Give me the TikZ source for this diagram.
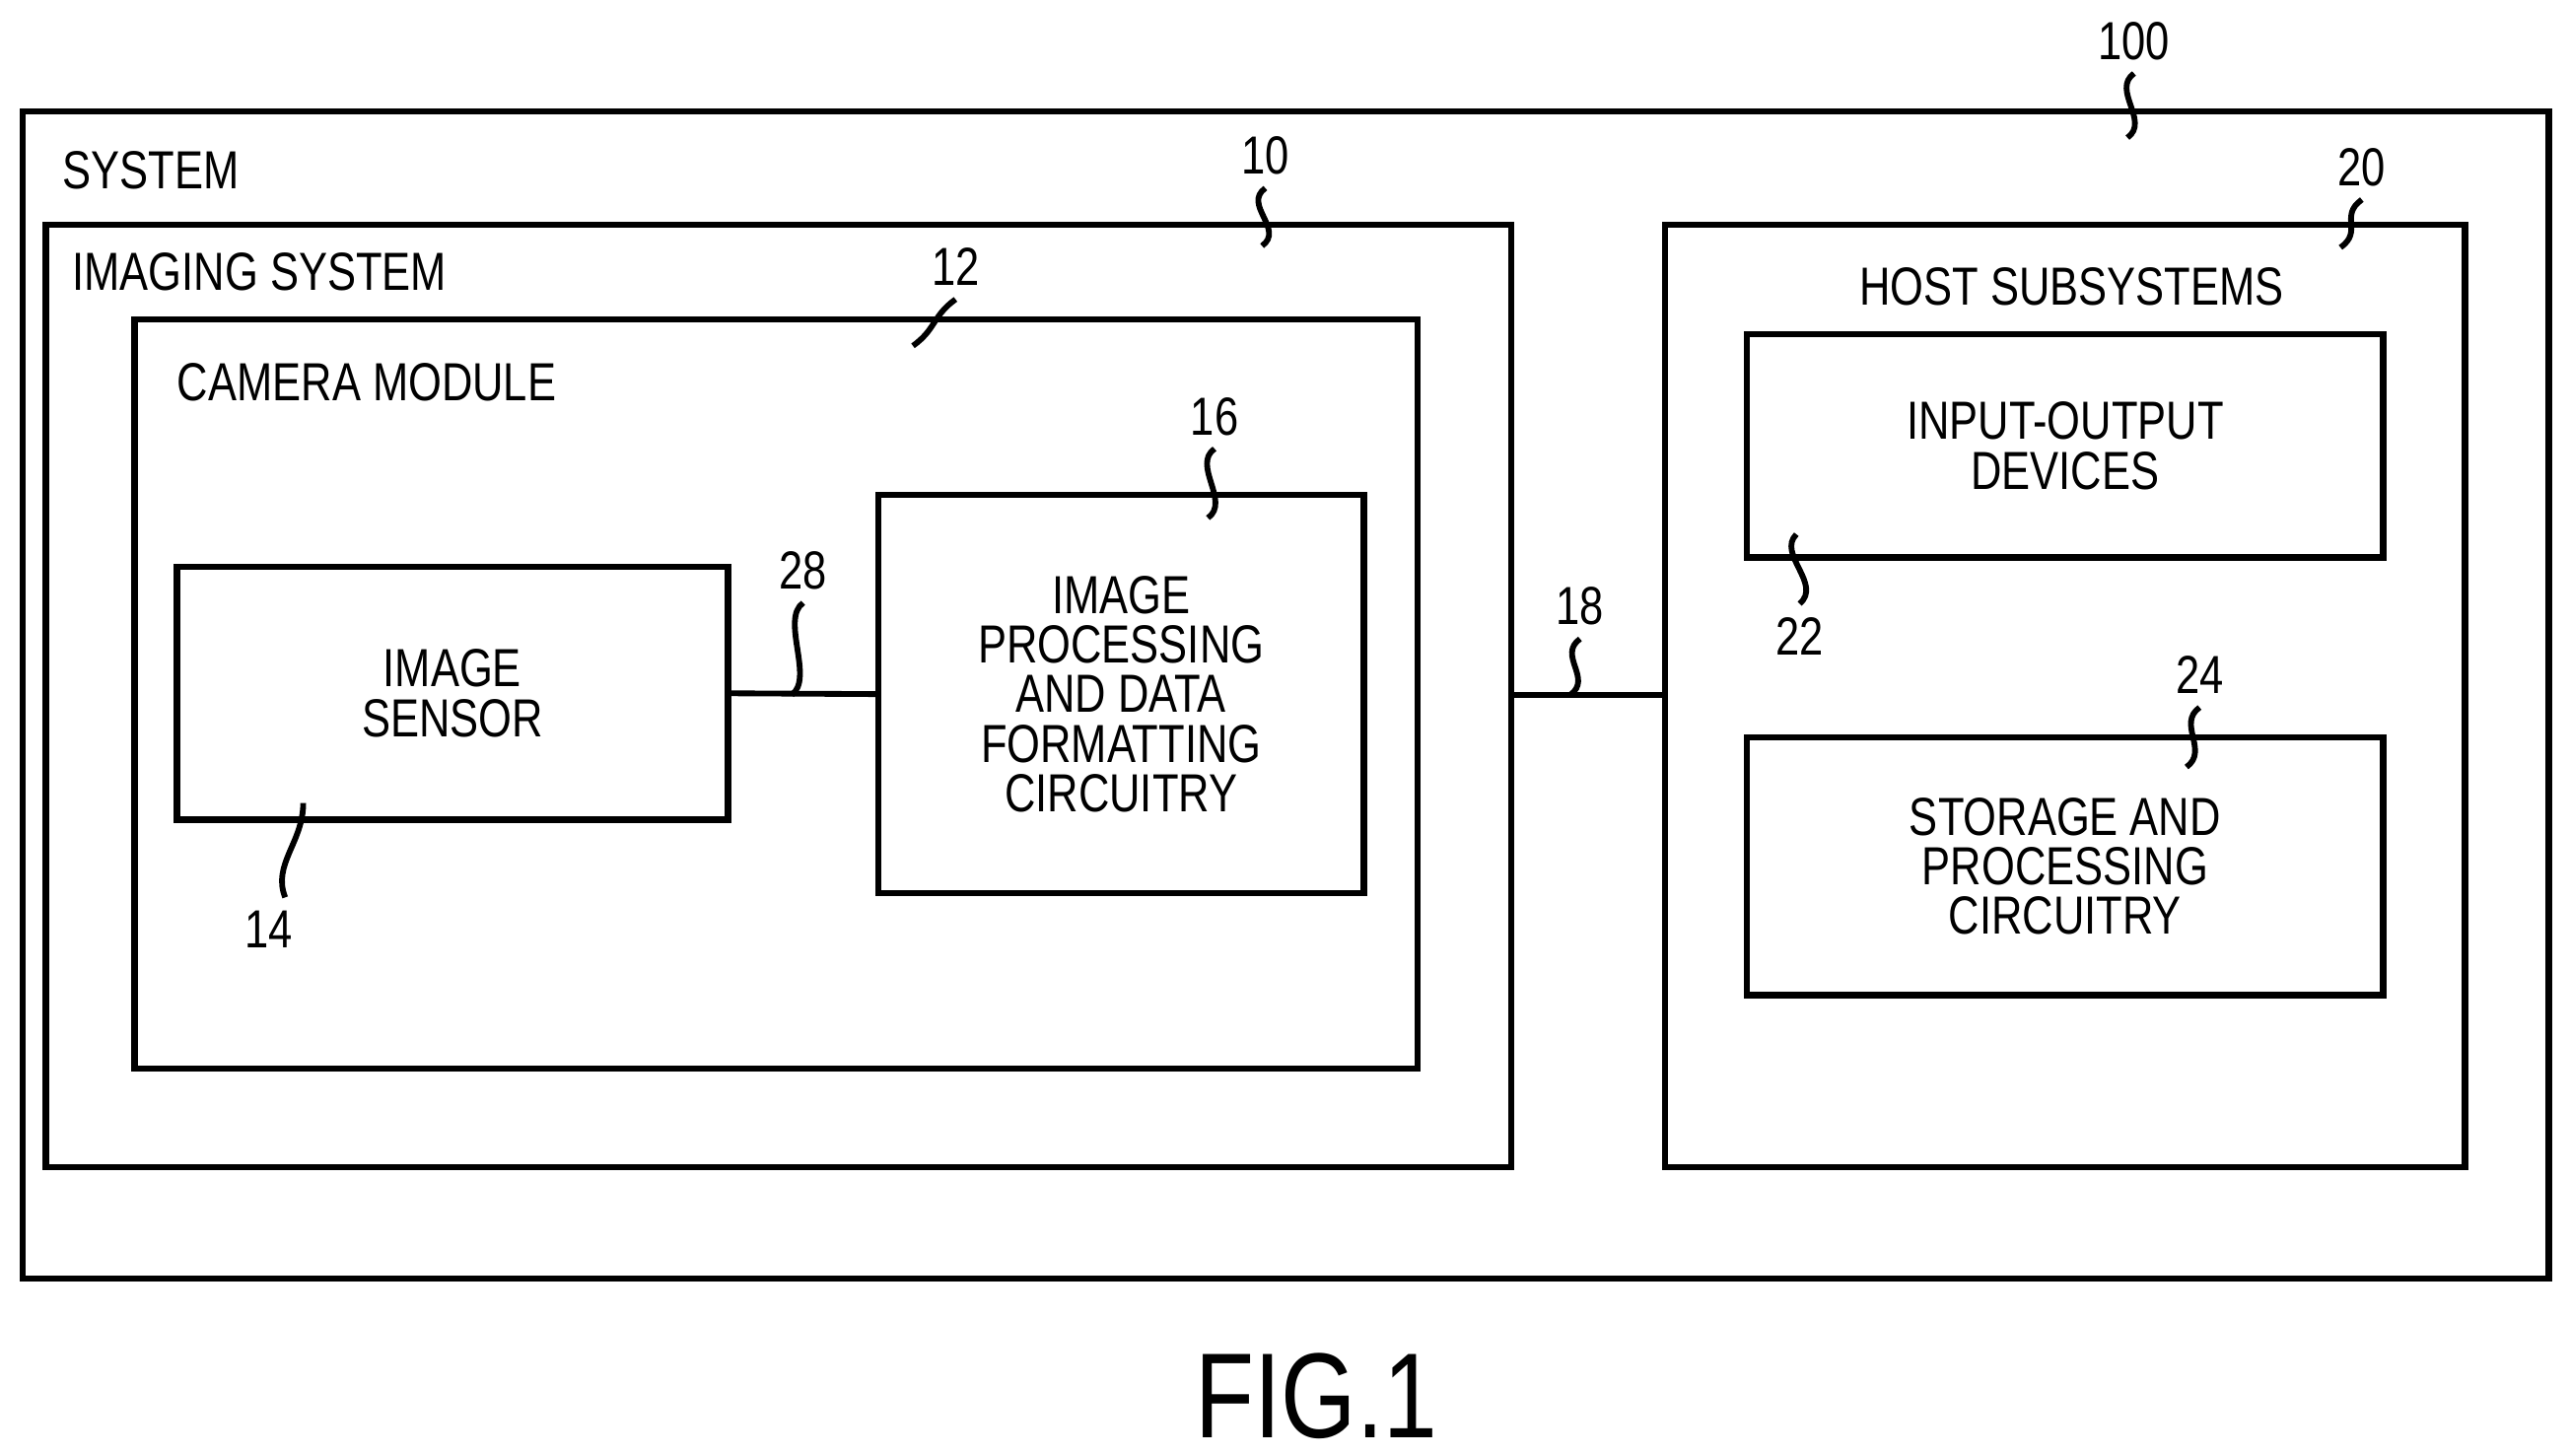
\documentclass[tikz,border=0pt]{standalone}
\usepackage{fontspec}
\setmainfont{Liberation Sans}[FakeStretch=0.8]
\usetikzlibrary{positioning}

\begin{document}
\begin{tikzpicture}[x=0.01cm,y=-0.01cm,
            every node/.append style = {font=\fontsize{9.3}{8.6}\selectfont, align=center, inner sep=1pt},
            blk/.style = {draw, line width=1.1pt},
            wire/.style = {line width=1pt},
            lead/.style = {line width=1pt}]
            \useasboundingbox (0,0) rectangle (1568,888);
            % outer frames
            \draw[blk] (14,68) rectangle (1555,780);
            \draw[blk] (28,137) rectangle (922,712);
            \draw[blk] (82,195) rectangle (865,652);
            \draw[blk] (1016,137) rectangle (1504,712);
            \node[anchor=west] (tsys) at (34,104) {SYSTEM};
            \node[anchor=west] (timg) at (40,166) {IMAGING SYSTEM};
            \node[anchor=west] (tcam) at (104,233) {CAMERA MODULE};
            \node (thost) at (1264,175) {HOST SUBSYSTEMS};
            % inner blocks
            \node[blk, minimum width=3.36cm, minimum height=1.54cm] (sensor) at (276,423) {IMAGE\\SENSOR};
            \node[blk, minimum width=2.96cm, minimum height=2.43cm] (proc) at (684,423.5) {IMAGE\\PROCESSING\\AND DATA\\FORMATTING\\CIRCUITRY};
            \node[blk, minimum width=3.88cm, minimum height=1.36cm] (io) at (1260,272) {INPUT-OUTPUT\\DEVICES};
            \node[blk, minimum width=3.88cm, minimum height=1.57cm] (store) at (1260,528.5) {STORAGE AND\\PROCESSING\\CIRCUITRY};
            \coordinate (imgR) at (922,424);
            \coordinate (hostL) at (1016,424);
            \draw[wire] (sensor.east) -- (proc.west);
            \draw[wire] (imgR) -- (hostL);
            % reference numerals
            \node (n100) at (1302,25) {100};
            \node (n10) at (772,95) {10};
            \node (n12) at (583,163) {12};
            \node (n16) at (741,254) {16};
            \node (n28) at (490,348) {28};
            \node (n18) at (964,370) {18};
            \node (n20) at (1441,102) {20};
            \node (n22) at (1098,388) {22};
            \node (n14) at (164,567) {14};
            \node (n24) at (1342,412) {24};
            \coordinate (p100) at (1298,84);
            \coordinate (p10) at (770,150);
            \coordinate (p12) at (557,211);
            \coordinate (p16) at (737,316);
            \coordinate (p28) at (483,424);
            \coordinate (p18) at (958,424);
            \coordinate (p20) at (1428,151);
            \coordinate (p22) at (1096,326);
            \coordinate (p14) at (185,490);
            \coordinate (p24) at (1334,468);
            \foreach \n in {100,10,12,16,28,18,20,24}
                \draw[lead] (n\n.south) ++(0,4) .. controls +(-14,10) and +(14,-10) .. (p\n);
            \draw[lead] (n22.north) ++(0,-4) .. controls +(14,-12) and +(-12,12) .. (p22);
            \draw[lead] (n14.north) ++(10,-4) .. controls +(-8,-20) and +(0,24) .. (p14);
            \node[font=\fontsize{21}{22}\selectfont] (fig) at (803,852) {FIG.1};
        \end{tikzpicture}
\end{document}
